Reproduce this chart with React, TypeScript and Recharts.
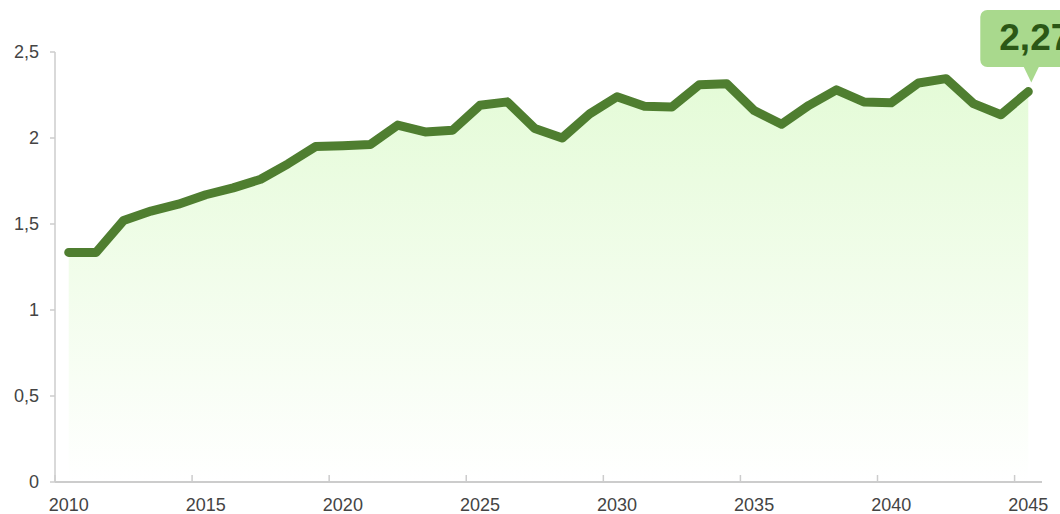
import { AreaChart, Area, XAxis, YAxis, LabelList } from "recharts";

const years = [
  2010, 2011, 2012, 2013, 2014, 2015, 2016, 2017, 2018, 2019, 2020, 2021,
  2022, 2023, 2024, 2025, 2026, 2027, 2028, 2029, 2030, 2031, 2032, 2033,
  2034, 2035, 2036, 2037, 2038, 2039, 2040, 2041, 2042, 2043, 2044, 2045,
];
const values = [
  1.335, 1.335, 1.52, 1.575, 1.615, 1.67, 1.71, 1.76, 1.85, 1.95, 1.955, 1.962,
  2.075, 2.035, 2.045, 2.19, 2.21, 2.055, 2.0, 2.14, 2.24, 2.185, 2.18, 2.31,
  2.315, 2.16, 2.08, 2.19, 2.28, 2.21, 2.205, 2.32, 2.345, 2.2, 2.135, 2.27,
];
const xTicks = [2010, 2015, 2020, 2025, 2030, 2035, 2040, 2045];
const yTicks = [0, 0.5, 1, 1.5, 2, 2.5];

const data = years.map((year, i) => ({ year, value: values[i] }));

const W = 1060;
const H = 514;
const MARGIN = { top: 52, right: 18, bottom: 0, left: 0 };
const Y_AXIS_W = 55;
const X_AXIS_H = 32;
const PLOT_W = W - MARGIN.left - MARGIN.right - Y_AXIS_W;
const HALF_STEP = PLOT_W / years.length / 2;
const TICK_SIZE = 5;
const TICK_MARGIN = 11;

const LINE = "#4f7e30";
const AXIS = "#cccccc";
const FONT = "'Liberation Sans', Arial, sans-serif";

const fmt = (v: number) => String(v).replace(".", ",");

// labels sit on the year, the tick marks sit between years
function XTick(props: any) {
  const { x, y, payload } = props;
  const axisY = y - TICK_SIZE - TICK_MARGIN;
  return (
    <g>
      <line
        x1={x - HALF_STEP}
        x2={x - HALF_STEP}
        y1={axisY}
        y2={axisY - 7}
        stroke={AXIS}
        strokeWidth={1.5}
      />
      <text
        x={x}
        y={y}
        dy="0.71em"
        textAnchor="middle"
        fontSize={18}
        fontFamily={FONT}
        fill="#444"
      >
        {payload.value}
      </text>
    </g>
  );
}

// value bubble above the last point (runs off the right edge, as in the source)
function Bubble(props: any) {
  const { x, y, value, index } = props;
  if (index !== data.length - 1) return null;
  const cx = x + 3;
  const top = 10;
  const bottom = 67;
  const halfW = 51;
  return (
    <g>
      <rect
        x={cx - halfW}
        y={top}
        width={halfW * 2}
        height={bottom - top}
        rx={7}
        fill="#a9d98d"
      />
      <path
        d={`M${cx - 8},${bottom - 1} L${cx + 8},${bottom - 1} L${cx},${y - 9} Z`}
        fill="#a9d98d"
      />
      <text
        x={cx + 4}
        y={50}
        textAnchor="middle"
        fontSize={37}
        fontWeight="bold"
        fontFamily={FONT}
        fill="#2b5716"
      >
        {fmt(value)}
      </text>
    </g>
  );
}

export default function App() {
  return (
    <div
      style={{
        position: "absolute",
        left: 0,
        top: 0,
        width: W,
        height: H,
        overflow: "hidden",
        background: "#fff",
      }}
    >
      <AreaChart width={W} height={H} data={data} margin={MARGIN}>
        <defs>
          <linearGradient id="fillGrad" x1="0" y1="0" x2="0" y2="1">
            <stop offset="0%" stopColor="#e4fbd7" />
            <stop offset="100%" stopColor="#ffffff" />
          </linearGradient>
        </defs>
        <XAxis
          dataKey="year"
          type="number"
          domain={[2009.5, 2045.5]}
          ticks={xTicks}
          interval={0}
          height={X_AXIS_H}
          tickSize={TICK_SIZE}
          tickMargin={TICK_MARGIN}
          tickLine={false}
          tick={<XTick />}
          axisLine={{ stroke: AXIS, strokeWidth: 2 }}
        />
        <YAxis
          width={Y_AXIS_W}
          domain={[0, 2.5]}
          ticks={yTicks}
          interval={0}
          tickSize={TICK_SIZE}
          tickMargin={TICK_MARGIN}
          tickFormatter={fmt}
          tick={{ fontSize: 18, fontFamily: FONT, fill: "#444" }}
          tickLine={{ stroke: AXIS, strokeWidth: 1.5 }}
          axisLine={{ stroke: AXIS, strokeWidth: 1.5 }}
        />
        <Area
          type="linear"
          dataKey="value"
          stroke={LINE}
          strokeWidth={9}
          strokeLinejoin="round"
          strokeLinecap="round"
          fill="url(#fillGrad)"
          fillOpacity={1}
          dot={false}
          activeDot={false}
          isAnimationActive={false}
        >
          <LabelList dataKey="value" content={<Bubble />} />
        </Area>
      </AreaChart>
    </div>
  );
}
